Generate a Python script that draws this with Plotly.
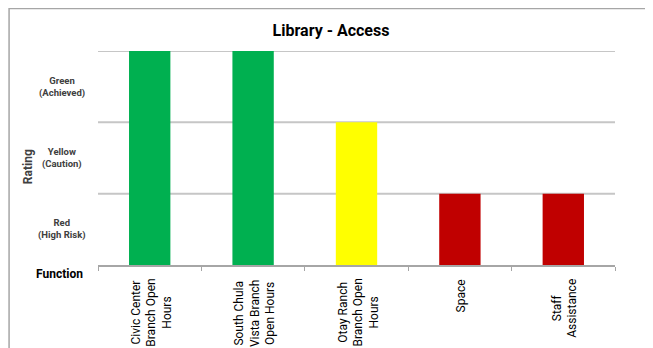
import plotly.graph_objects as go

categories = ["Civic Center Branch Open Hours", "South Chula Vista Branch Open Hours",
              "Otay Ranch Branch Open Hours", "Space", "Staff Assistance"]
category_labels = ["Civic Center<br>Branch Open<br>Hours", "South Chula<br>Vista Branch<br>Open Hours",
                   "Otay Ranch<br>Branch Open<br>Hours", "Space", "Staff<br>Assistance"]
ratings = [3, 3, 2, 1, 1]
bar_colors = ["#00b050", "#00b050", "#ffff00", "#c00000", "#c00000"]
rating_labels = ["Red<br>(High Risk)", "Yellow<br>(Caution)", "Green<br>(Achieved)"]
rating_positions = [0.5, 1.5, 2.5]
grid_levels = [1, 2, 3]

FONT = "Roboto, sans-serif"

fig = go.Figure(go.Bar(x=categories, y=ratings, marker_color=bar_colors,
                       marker_line_width=0, width=0.4))

shapes = [dict(type="line", xref="paper", x0=0, x1=1, yref="y", y0=g, y1=g,
               line=dict(color="#c6c6c6", width=2), layer="below") for g in grid_levels]
shapes.append(dict(type="rect", xref="paper", yref="paper", x0=-0.172, x1=1.0685,
                   y0=-0.45, y1=1.1986, line=dict(color="#a6a6a6", width=1.5)))

annotations = []
for pos, lab in zip(rating_positions, rating_labels):
    annotations.append(dict(text="<b>%s</b>" % lab, xref="paper", yref="y", x=-0.0696, y=pos,
                            xanchor="center", yanchor="middle", align="center", showarrow=False,
                            font=dict(family=FONT, size=9.5, color="#404040")))
for cat, lab in zip(categories, category_labels):
    annotations.append(dict(text=lab, xref="x", yref="paper", x=cat, y=-0.056, textangle=-90,
                            xanchor="center", yanchor="top", align="center", showarrow=False,
                            xshift=2,
                            font=dict(family=FONT, size=12, color="black")))
annotations.append(dict(text="<b>Function</b>", xref="paper", yref="paper", x=-0.025, y=-0.042,
                        xanchor="right", yanchor="middle", showarrow=False,
                        font=dict(family=FONT, size=12, color="black")))
annotations.append(dict(text="<b>Rating</b>", xref="paper", yref="paper", x=-0.135, y=0.458,
                        textangle=-90, xanchor="center", yanchor="middle", showarrow=False,
                        font=dict(family=FONT, size=12, color="#404040")))

fig.update_layout(
    width=645, height=340,
    margin=dict(l=90, r=38, t=43, b=83),
    paper_bgcolor="white", plot_bgcolor="white",
    showlegend=False,
    title=dict(text="<b>Library - Access</b>", x=0.5008, xanchor="center", y=0.935, yanchor="middle",
               font=dict(family=FONT, size=16, color="black")),
    font=dict(family=FONT),
    shapes=shapes,
    annotations=annotations,
    xaxis=dict(tickson="boundaries", ticks="outside", ticklen=4, tickcolor="#a6a6a6", tickwidth=1,
               showline=True, linecolor="#a6a6a6", linewidth=1.5, showgrid=False,
               showticklabels=False),
    yaxis=dict(range=[0, 3], showgrid=False, zeroline=False, ticks="", showticklabels=False),
)

fig.write_html("out.html")
